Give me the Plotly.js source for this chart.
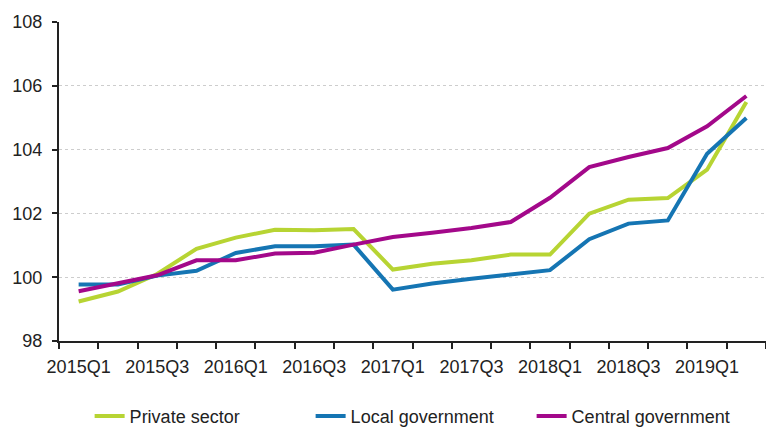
<!DOCTYPE html>
<html>
<head>
<meta charset="utf-8">
<script src="https://cdn.plot.ly/plotly-3.0.1.min.js"></script>
<style>html,body{margin:0;padding:0;background:#fff;}#chart{width:766px;height:427px;}</style>
</head>
<body>
<div id="chart"></div>
<script>
const quarters = ['2015Q1','2015Q2','2015Q3','2015Q4','2016Q1','2016Q2','2016Q3','2016Q4',
  '2017Q1','2017Q2','2017Q3','2017Q4','2018Q1','2018Q2','2018Q3','2018Q4','2019Q1','2019Q2'];
const privateSector = [99.24,99.55,100.1,100.89,101.24,101.49,101.47,101.51,100.24,100.42,100.53,100.71,100.71,101.99,102.43,102.48,103.37,105.49];
const localGovernment = [99.77,99.77,100.05,100.2,100.76,100.97,100.97,101.02,99.61,99.80,99.95,100.09,100.22,101.19,101.68,101.78,103.87,104.99];
const centralGovernment = [99.56,99.80,100.06,100.53,100.53,100.74,100.77,101.02,101.26,101.39,101.54,101.73,102.49,103.45,103.77,104.05,104.73,105.68];
const tickQuarters = quarters.filter((q,i)=>i%2===0);

const xIdx = quarters.map((q,i)=>i);
const tickIdx = quarters.map((q,i)=>i).filter(i=>i%2===0);

const font = {family:'"Liberation Sans", Arial, sans-serif', size:18, color:'#222'};

function tr(name, y, color){
  return {x:xIdx, y:y, name:name, type:'scatter', mode:'lines',
    line:{color:color, width:4}, text:quarters, hovertemplate:'%{text}: %{y}<extra>'+name+'</extra>'};
}

const data = [
  tr('Private sector', privateSector, '#b7d433'),
  tr('Local government', localGovernment, '#1575b3'),
  tr('Central government', centralGovernment, '#a3088a')
];

const layout = {
  width:766, height:427,
  margin:{l:59, r:0, t:22, b:86},
  paper_bgcolor:'#fff', plot_bgcolor:'#fff',
  font:font,
  showlegend:true,
  legend:{orientation:'h', xref:'container', yref:'container', x:0.117, xanchor:'left', y:0.025, yanchor:'middle',
    font:font, entrywidth:176, entrywidthmode:'pixels'},
  xaxis:{range:[-0.5,17.5], tickmode:'array', tickvals:tickIdx, ticktext:tickQuarters,
    showgrid:false, zeroline:false, showline:true, linecolor:'#222', linewidth:2,
    ticks:'outside', ticklen:5, tickcolor:'rgba(0,0,0,0)', ticklabelstandoff:3,
    minor:{tickmode:'linear', tick0:-0.5, dtick:1, ticks:'outside', ticklen:6, tickcolor:'#222', tickwidth:2, showgrid:false},
    tickfont:font},
  yaxis:{range:[98,108], tickmode:'linear', tick0:98, dtick:2,
    showgrid:true, gridcolor:'#cdcdcd', griddash:'dot', gridwidth:1,
    zeroline:false, showline:true, linecolor:'#222', linewidth:2,
    ticks:'outside', ticklen:5, tickcolor:'#222', tickwidth:2, ticklabelstandoff:6,
    tickfont:font}
};

Plotly.newPlot('chart', data, layout, {displayModeBar:false, staticPlot:true});
</script>
</body>
</html>
